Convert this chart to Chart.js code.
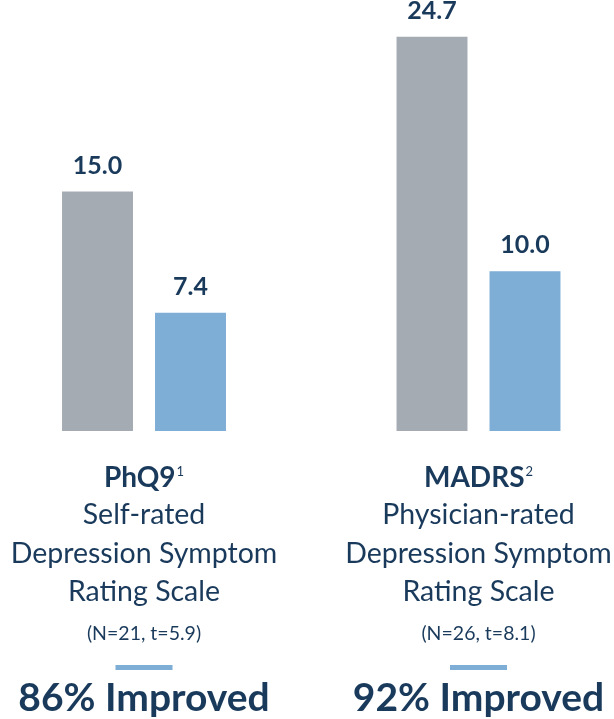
<!DOCTYPE html>
<html>
<head>
<meta charset="utf-8">
<script src="https://cdn.jsdelivr.net/npm/chart.js@4"></script>
<style>
  html, body { margin: 0; padding: 0; background: #fff; }
  #wrap { width: 614px; height: 719px; position: relative; }
</style>
</head>
<body>
<div id="wrap"><canvas id="scores"></canvas></div>
<script>
// rating scales and mean scores (before / after treatment)
const scaleNames = ['PhQ9', 'MADRS'];
const footnotes = ['1', '2'];
const baseline = [15.0, 24.7];
const followUp = [7.4, 10.0];
const descriptions = [
    ['Self-rated', 'Depression Symptom', 'Rating Scale'],
    ['Physician-rated', 'Depression Symptom', 'Rating Scale']
];
const stats = ['(N=21, t=5.9)', '(N=26, t=8.1)'];
const improved = ['86% Improved', '92% Improved'];

const navy = '#1a3a5c';
const gray = '#a5abb3';
const blue = '#7eadd6';
const font = 'Lato, "Open Sans", sans-serif';

// draws the value labels and the captions under each group
const captions = {
    id: 'captions',
    afterDatasetsDraw(chart) {
        const ctx = chart.ctx;
        const x = chart.scales.x;
        ctx.save();
        ctx.fillStyle = navy;
        ctx.textAlign = 'center';
        ctx.textBaseline = 'alphabetic';

        chart.data.datasets.forEach((ds, i) => {
            chart.getDatasetMeta(i).data.forEach((bar, j) => {
                ctx.font = 'bold 25px ' + font;
                ctx.fillText(ds.data[j].toFixed(1), bar.x, bar.y - 18);
            });
        });

        scaleNames.forEach((name, i) => {
            const cx = x.getPixelForValue(i);

            ctx.font = 'bold 28px ' + font;
            const w = ctx.measureText(name).width;
            ctx.font = '13px ' + font;
            const sw = ctx.measureText(footnotes[i]).width;
            const start = cx - (w + sw + 1) / 2;
            ctx.textAlign = 'left';
            ctx.font = 'bold 28px ' + font;
            ctx.fillText(name, start, 487);
            ctx.font = '13px ' + font;
            ctx.fillText(footnotes[i], start + w + 1, 476);
            ctx.textAlign = 'center';

            ctx.font = '28.5px ' + font;
            descriptions[i].forEach((line, k) => {
                ctx.fillText(line, cx, 524 + k * 38.5);
            });

            ctx.font = '19.5px ' + font;
            ctx.fillText(stats[i], cx, 640);

            ctx.fillStyle = blue;
            ctx.fillRect(cx - 28.5, 665, 57, 5);
            ctx.fillStyle = navy;

            ctx.font = 'bold 39px ' + font;
            ctx.fillText(improved[i], cx, 711);
        });
        ctx.restore();
    }
};

new Chart(document.getElementById('scores'), {
    type: 'bar',
    data: {
        labels: scaleNames,
        datasets: [{
            label: 'Baseline',
            data: baseline,
            backgroundColor: gray,
            clip: false
        }, {
            label: 'Follow-up',
            data: followUp,
            backgroundColor: blue,
            clip: false
        }]
    },
    options: {
        responsive: true,
        maintainAspectRatio: false,
        animation: false,
        categoryPercentage: 0.556,
        barPercentage: 0.763,
        layout: {
            padding: { left: 144, right: 135.5, top: 0, bottom: 288 }
        },
        plugins: {
            legend: { display: false },
            tooltip: { enabled: false }
        },
        scales: {
            x: { display: false, offset: false },
            y: { display: false, min: 0, max: 27 }
        }
    },
    plugins: [captions]
});
</script>
</body>
</html>
